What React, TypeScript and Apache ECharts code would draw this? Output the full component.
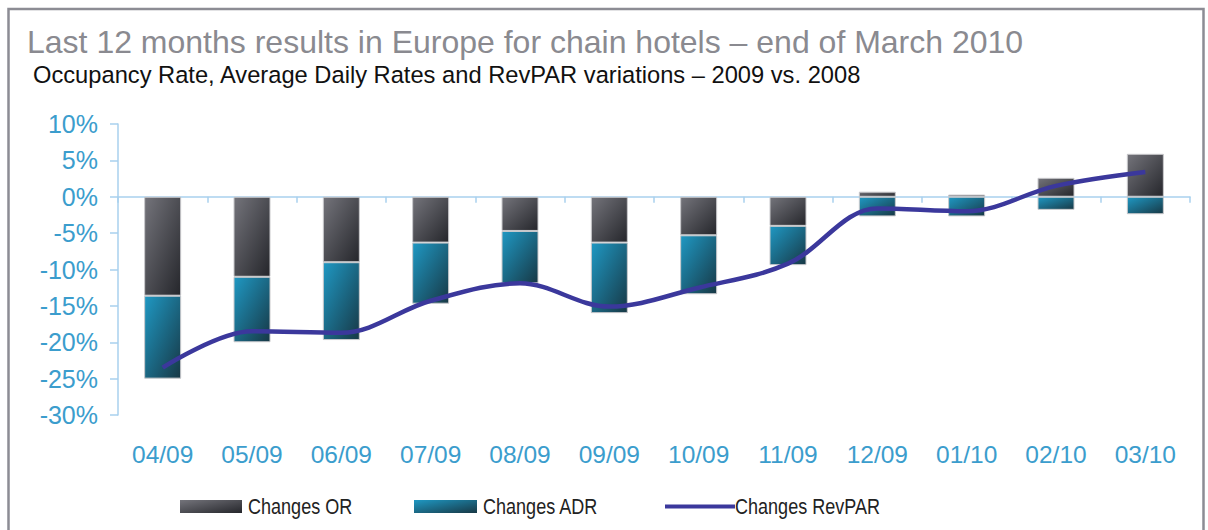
import React, { useEffect, useRef } from "react";
import * as echarts from "echarts";

const categories = ["04/09", "05/09", "06/09", "07/09", "08/09", "09/09", "10/09", "11/09", "12/09", "01/10", "02/10", "03/10"];
const orChanges = [-13.6, -11.0, -9.0, -6.3, -4.7, -6.3, -5.3, -4.0, 0.7, 0.3, 2.6, 5.9];
const adrChanges = [-11.4, -9.0, -10.7, -8.4, -7.2, -9.7, -8.1, -5.4, -2.7, -2.7, -1.8, -2.4];
const revparChanges = [-23.5, -18.5, -18.7, -14.3, -11.9, -15.1, -12.5, -9.2, -1.6, -2.0, 1.5, 3.4];
const seriesNames = ["Changes OR", "Changes ADR", "Changes RevPAR"];

const titleText = "Last 12 months results in Europe for chain hotels \u2013 end of March 2010";
const subtitleText = "Occupancy Rate, Average Daily Rates and RevPAR variations \u2013 2009 vs. 2008";

const SANS = '"Liberation Sans", Arial, Helvetica, sans-serif';
const LABEL_BLUE = "#3b9dcd";
const AXIS_BLUE = "#a9d1ee";
const LINE_COLOR = "#3b389c";

export default function App() {
  const ref = useRef<HTMLDivElement>(null);

  useEffect(() => {
    if (!ref.current) return;
    const chart = echarts.init(ref.current, undefined, { renderer: "svg" });
    const orGrad = () =>
      new echarts.graphic.LinearGradient(0, 0, 1, 1, [
        { offset: 0, color: "#74747b" },
        { offset: 1, color: "#25262b" },
      ]);
    const adrGrad = () =>
      new echarts.graphic.LinearGradient(0, 0, 1, 1, [
        { offset: 0, color: "#1f98c3" },
        { offset: 1, color: "#173845" },
      ]);

    const legendY = 506.5;
    const legendText = (x: number, text: string) => ({
      type: "text",
      x,
      y: legendY,
      scaleX: 0.82,
      silent: true,
      style: { text, fill: "#222222", font: `22px ${SANS}`, align: "left", verticalAlign: "middle" },
    });

    chart.setOption({
      animation: false,
      backgroundColor: "#ffffff",
      graphic: [
        {
          type: "rect",
          shape: { x: 8.5, y: 9, width: 1195, height: 600 },
          style: { fill: "none", stroke: "#8c8c94", lineWidth: 2.5 },
          silent: true,
        },
        {
          type: "text",
          x: 27,
          y: 42,
          style: { text: titleText, fill: "#8a8a90", font: `32px ${SANS}`, align: "left", verticalAlign: "middle" },
        },
        {
          type: "text",
          x: 33,
          y: 75,
          style: { text: subtitleText, fill: "#111111", font: `23.7px ${SANS}`, align: "left", verticalAlign: "middle" },
        },
        {
          type: "rect",
          silent: true,
          shape: { x: 180, y: legendY - 6.5, width: 62, height: 13 },
          style: { fill: orGrad() },
        },
        legendText(248, seriesNames[0]),
        {
          type: "rect",
          silent: true,
          shape: { x: 414, y: legendY - 6.5, width: 63, height: 13 },
          style: { fill: adrGrad() },
        },
        legendText(483, seriesNames[1]),
        {
          type: "line",
          silent: true,
          shape: { x1: 665, y1: legendY, x2: 735, y2: legendY },
          style: { stroke: LINE_COLOR, lineWidth: 4 },
        },
        legendText(735, seriesNames[2]),
      ],
      grid: { left: 118, top: 124, width: 1072, height: 291, containLabel: false },
      xAxis: [
        {
          type: "category",
          data: categories,
          position: "bottom",
          axisLine: { show: false, onZero: false },
          axisTick: { show: false },
          axisLabel: { color: LABEL_BLUE, fontSize: 24.5, fontFamily: SANS, margin: 27 },
        },
        {
          type: "category",
          data: categories,
          position: "top",
          axisLine: { show: true, onZero: true, lineStyle: { color: AXIS_BLUE, width: 1.5 } },
          axisTick: { show: true, inside: true, length: 6, lineStyle: { color: AXIS_BLUE, width: 1.5 } },
          axisLabel: { show: false },
        },
      ],
      yAxis: {
        type: "value",
        min: -30,
        max: 10,
        interval: 5,
        axisLine: { show: true, lineStyle: { color: AXIS_BLUE, width: 1.5 } },
        axisTick: { show: true, length: 8, lineStyle: { color: AXIS_BLUE, width: 1.5 } },
        splitLine: { show: false },
        axisLabel: { formatter: "{value}%", color: LABEL_BLUE, fontSize: 25, fontFamily: SANS, margin: 20 },
      },
      series: [
        {
          name: seriesNames[0],
          type: "bar",
          stack: "total",
          barWidth: 37,
          data: orChanges,
          itemStyle: { color: orGrad(), borderColor: "#c9c9cc", borderWidth: 1 },
          z: 2,
        },
        {
          name: seriesNames[1],
          type: "bar",
          stack: "total",
          barWidth: 37,
          data: adrChanges,
          itemStyle: { color: adrGrad(), borderColor: "#c9c9cc", borderWidth: 1 },
          z: 2,
        },
        {
          name: seriesNames[2],
          type: "line",
          data: revparChanges,
          smooth: 0.35,
          symbol: "none",
          lineStyle: { color: LINE_COLOR, width: 4.5 },
          itemStyle: { color: LINE_COLOR },
          z: 5,
        },
      ],
    });
    return () => chart.dispose();
  }, []);

  return (
    <div
      ref={ref}
      style={{ position: "fixed", left: 0, top: 0, width: 1208, height: 530, background: "#fff" }}
    />
  );
}
